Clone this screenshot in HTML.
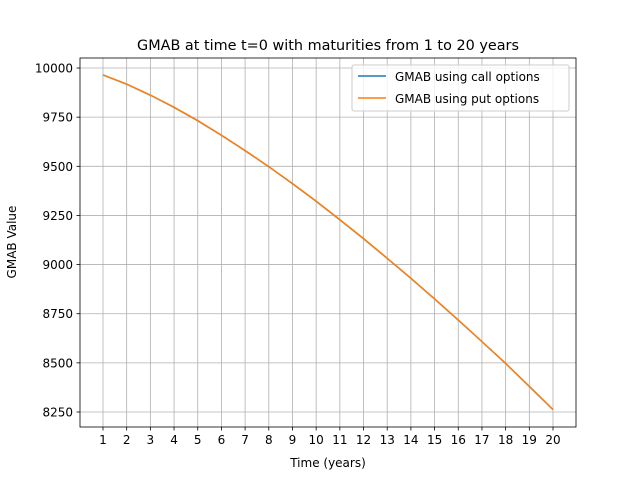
<!DOCTYPE html>
<html><head><meta charset="utf-8"><style>
body{margin:0;background:#fff;font-family:"Liberation Sans","DejaVu Sans",sans-serif}
svg text{font-family:"DejaVu Sans","Liberation Sans",sans-serif;fill:#000}
</style></head><body>
<svg id="chart" width="640" height="480" xmlns="http://www.w3.org/2000/svg">
<rect width="640" height="480" fill="#fff"/>
<g id="grid"></g><g id="ticks"></g><g id="lines"></g>
<rect x="80" y="58" width="496" height="369" fill="none" stroke="#000" stroke-width="0.8"/>
<text x="328" y="50" font-size="14.4" text-anchor="middle">GMAB at time t=0 with maturities from 1 to 20 years</text>
<text x="328" y="467" font-size="12" text-anchor="middle">Time (years)</text>
<text transform="translate(16,242) rotate(-90)" font-size="12" text-anchor="middle">GMAB Value</text>
<g>
<rect x="352" y="65" width="217" height="46" rx="2" fill="#fff" fill-opacity="0.8" stroke="#ccc"/>
<line x1="358" y1="76" x2="386" y2="76" stroke="#1f77b4" stroke-width="1.5"/>
<text x="395" y="81" font-size="12">GMAB using call options</text>
<line x1="358" y1="98" x2="386" y2="98" stroke="#ff7f0e" stroke-width="1.5"/>
<text x="395" y="103" font-size="12">GMAB using put options</text>
</g>
</svg>
<script>
const years=[1,2,3,4,5,6,7,8,9,10,11,12,13,14,15,16,17,18,19,20];
const callValues=[9965,9918,9862,9800,9732,9658,9580,9498,9412,9322,9228,9132,9032,8930,8825,8718,8608,8497,8380,8262];
const putValues=[9965,9918,9862,9800,9732,9658,9580,9498,9412,9322,9228,9132,9032,8930,8825,8718,8608,8497,8380,8262];
const yTicks=[8250,8500,8750,9000,9250,9500,9750,10000];
const NS="http://www.w3.org/2000/svg";
const xs=v=>103+(v-1)*(450/19);
const ys=v=>412-(v-8250)/250*49.14;
function mk(tag,attrs,parent){const e=document.createElementNS(NS,tag);for(const k in attrs)e.setAttribute(k,attrs[k]);parent.appendChild(e);return e;}
const grid=document.getElementById('grid'),ticks=document.getElementById('ticks'),lines=document.getElementById('lines');
years.forEach(y=>{const x=xs(y);
 const g=mk('line',{x1:x,x2:x,y1:58,y2:427,stroke:'#b0b0b0','stroke-width':0.8},grid);
 
 
 mk('line',{x1:x,x2:x,y1:427,y2:430.5,stroke:'#000','stroke-width':0.8},ticks);
 const t=mk('text',{x:x,y:444,'font-size':12,'text-anchor':'middle'},ticks);t.textContent=y;
 
 
});
yTicks.forEach(v=>{const y=ys(v);
 const g=mk('line',{x1:80,x2:576,y1:y,y2:y,stroke:'#b0b0b0','stroke-width':0.8},grid);
 
 
 mk('line',{x1:76.5,x2:80,y1:y,y2:y,stroke:'#000','stroke-width':0.8},ticks);
 const t=mk('text',{x:73,y:y+4.5,'font-size':12,'text-anchor':'end'},ticks);t.textContent=v;
 
 
});
function pts(vals){return years.map((y,i)=>xs(y)+','+ys(vals[i])).join(' ');}
const l1=mk('polyline',{points:pts(callValues),fill:'none',stroke:'#1f77b4','stroke-width':1.5},lines);


const l2=mk('polyline',{points:pts(putValues),fill:'none',stroke:'#ff7f0e','stroke-width':1.5},lines);


</script>
</body></html>
